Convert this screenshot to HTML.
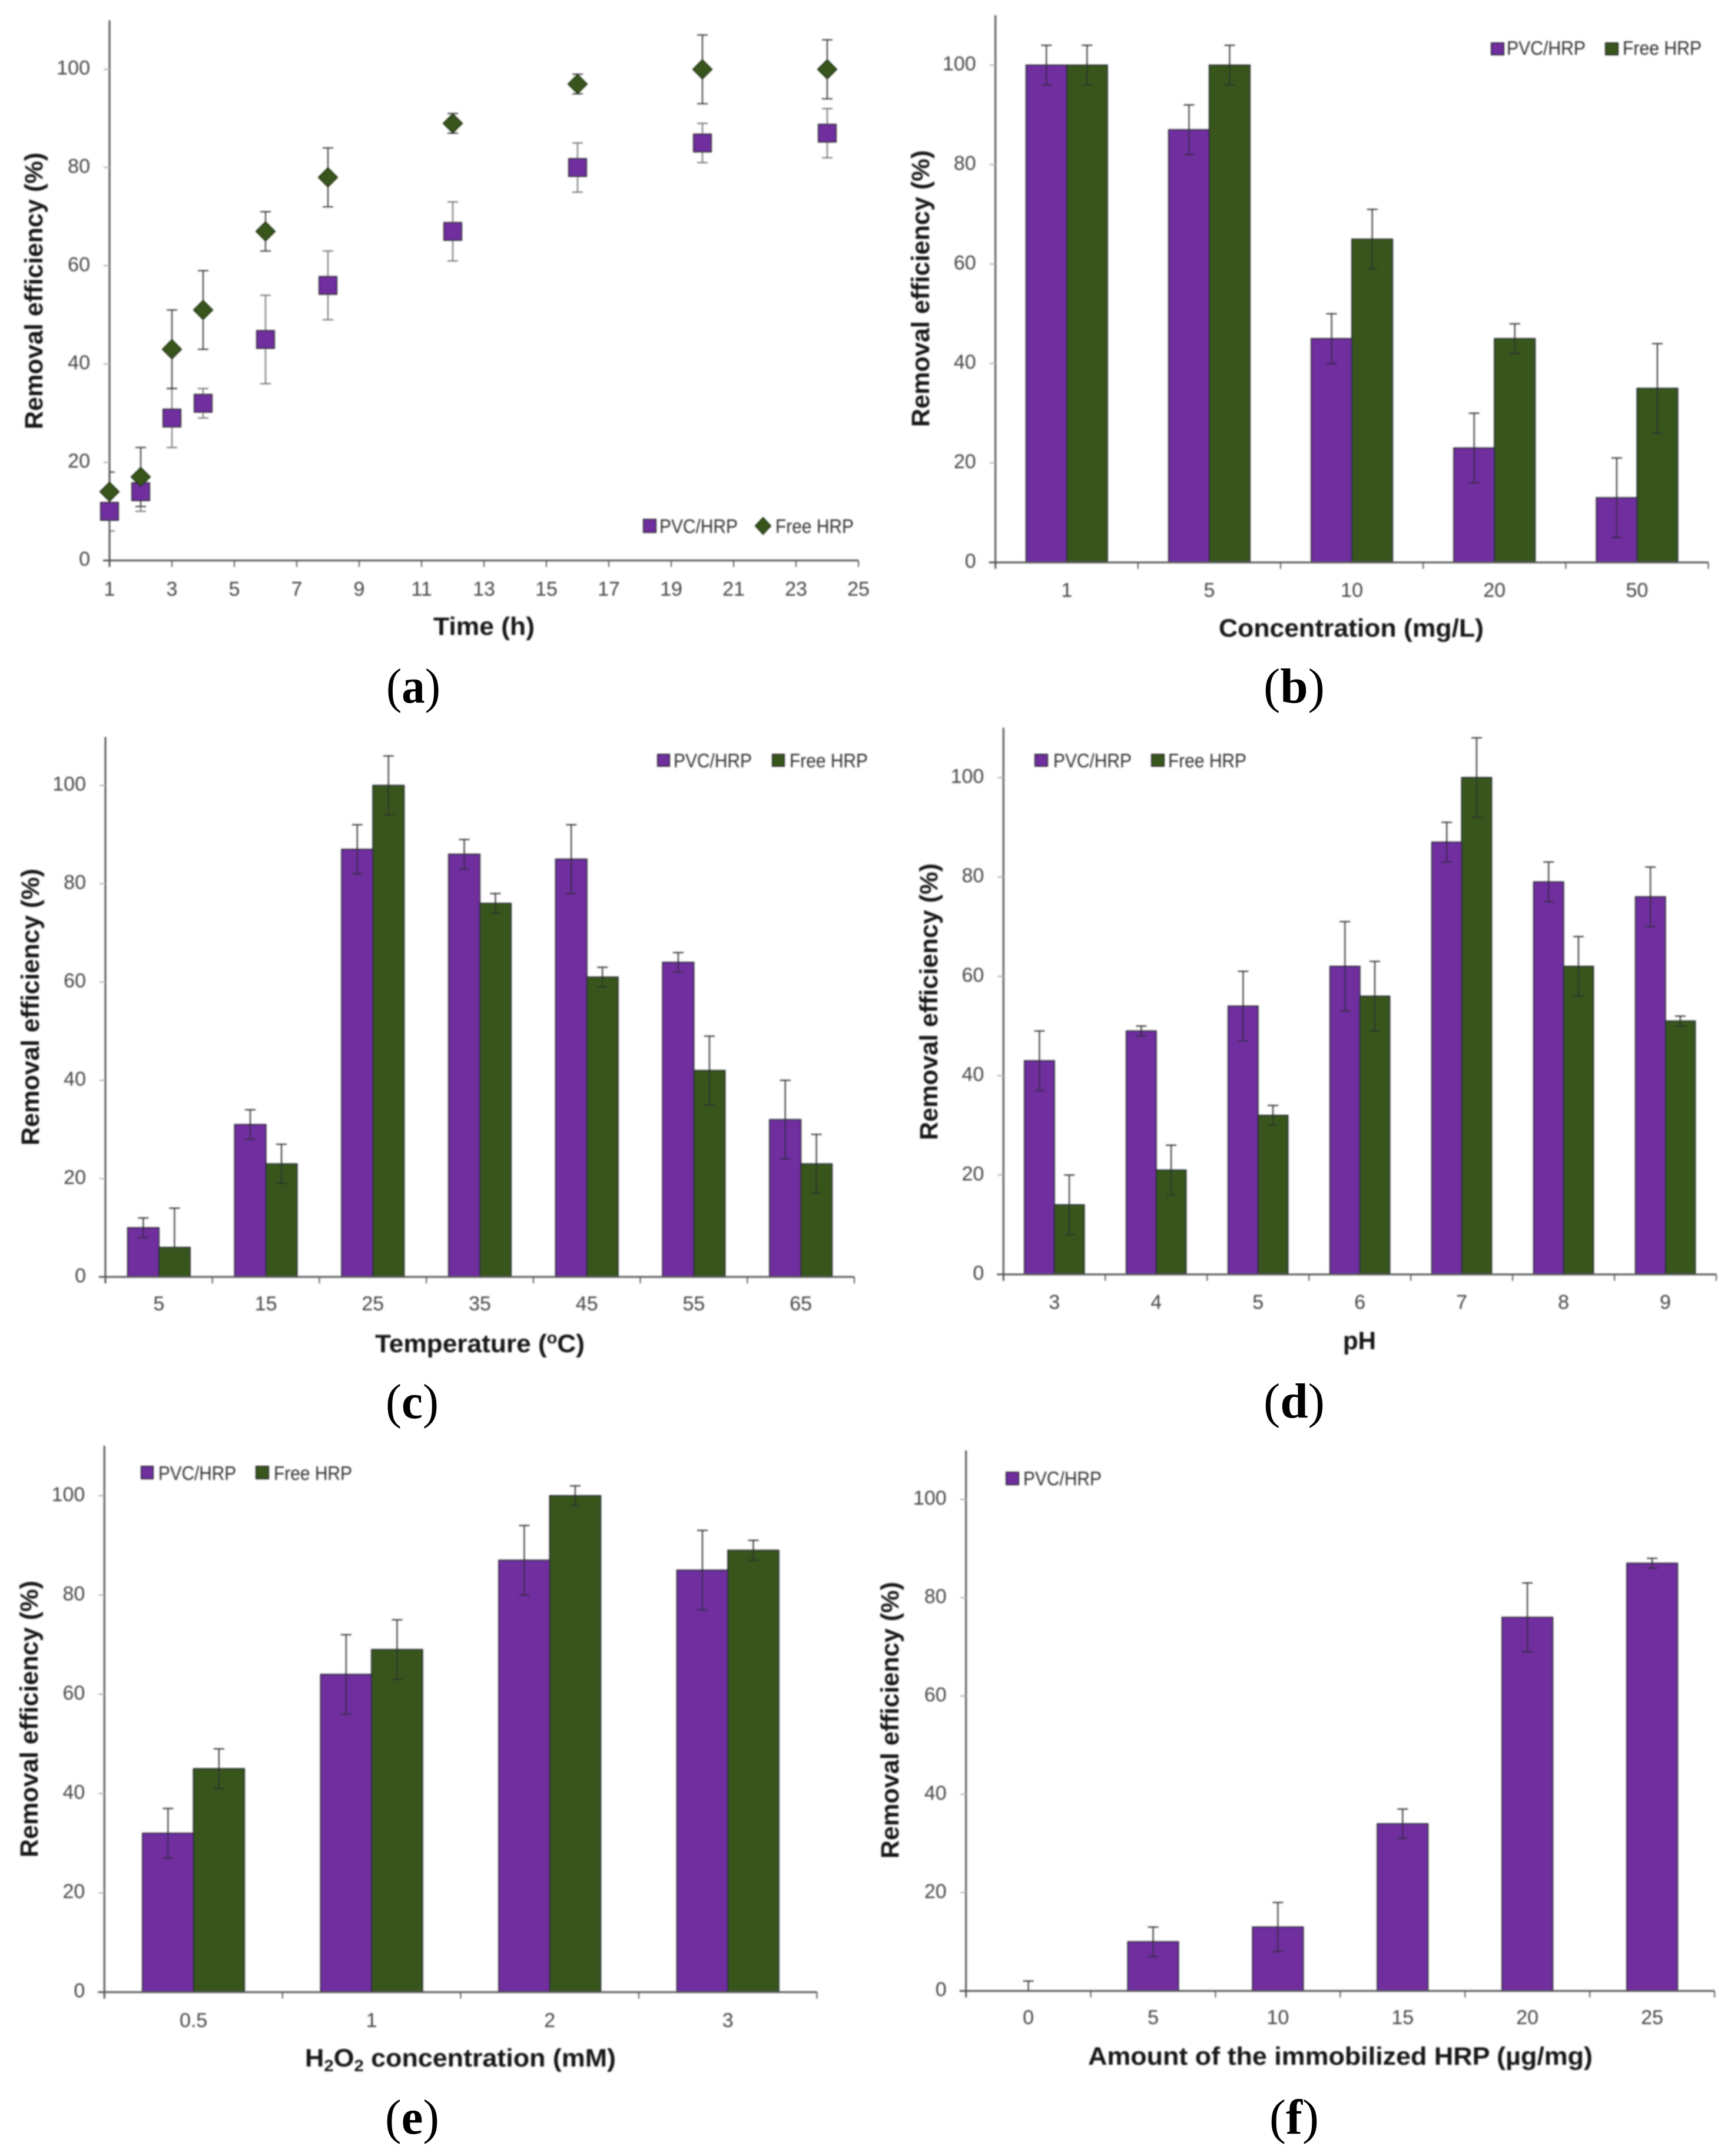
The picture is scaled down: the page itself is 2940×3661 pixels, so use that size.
<!DOCTYPE html>
<html lang="en">
<head>
<meta charset="utf-8">
<title>Removal efficiency panels</title>
<style>
html,body{margin:0;padding:0;background:#fff;}
svg{display:block;}
text{font-family:"Liberation Sans",sans-serif;}
.tick{font-size:34px;fill:#454545;}
.title{font-size:43px;font-weight:700;fill:#151515;}
.legend{font-size:33px;fill:#333;}
.plabel{font-family:"Liberation Serif",serif;font-size:84px;fill:#000;text-anchor:middle;}
.plabel tspan.b{font-weight:700;}
</style>
</head>
<body>
<svg id="figure" xmlns="http://www.w3.org/2000/svg" width="2940" height="3661" viewBox="0 0 2940 3661">
<defs>
<filter id="soft" x="0" y="0" width="2940" height="3661" filterUnits="userSpaceOnUse"><feGaussianBlur stdDeviation="1.2"/></filter>
<clipPath id="clip-a"><rect x="186" y="0" width="1400" height="1000"/></clipPath>
</defs>
<rect width="2940" height="3661" fill="#fff"/>
<g id="blurred" filter="url(#soft)">
  <g id="panel-a">
    <text class="title" transform="translate(72,494) rotate(-90)" text-anchor="middle" textLength="470" lengthAdjust="spacingAndGlyphs">Removal efficiency (%)</text>
    <text class="title" x="736" y="1078" textLength="172" lengthAdjust="spacingAndGlyphs">Time (h)</text>
    <g>
      <rect x="1093" y="882" width="21" height="22" fill="#702f9f" stroke="#222" stroke-width="2"/>
      <text class="legend" x="1120" y="905" textLength="133" lengthAdjust="spacingAndGlyphs">PVC/HRP</text>
      <polygon points="1296,879 1309,893 1296,907 1283,893" fill="#38571f" stroke="#1c2c10" stroke-width="2"/>
      <text class="legend" x="1317" y="905" textLength="133" lengthAdjust="spacingAndGlyphs">Free HRP</text>
    </g>
  </g>
  <g id="panel-b">
    <text class="title" transform="translate(1578,490) rotate(-90)" text-anchor="middle" textLength="470" lengthAdjust="spacingAndGlyphs">Removal efficiency (%)</text>
    <text class="title" x="2070" y="1081" textLength="450" lengthAdjust="spacingAndGlyphs">Concentration (mg/L)</text>
    <g>
      <rect x="2533" y="73" width="21" height="20" fill="#702f9f" stroke="#222" stroke-width="2"/>
      <text class="legend" x="2559" y="93" textLength="134" lengthAdjust="spacingAndGlyphs">PVC/HRP</text>
      <rect x="2727" y="73" width="21" height="20" fill="#38571f" stroke="#222" stroke-width="2"/>
      <text class="legend" x="2756" y="93" textLength="134" lengthAdjust="spacingAndGlyphs">Free HRP</text>
    </g>
  </g>
  <g id="panel-c">
    <text class="title" transform="translate(66,1710) rotate(-90)" text-anchor="middle" textLength="470" lengthAdjust="spacingAndGlyphs">Removal efficiency (%)</text>
    <text class="title" x="637" y="2296" textLength="356" lengthAdjust="spacingAndGlyphs">Temperature (<tspan font-size="28" dy="-15">o</tspan><tspan dy="15">C)</tspan></text>
    <g>
      <rect x="1117" y="1281" width="20" height="20" fill="#702f9f" stroke="#222" stroke-width="2"/>
      <text class="legend" x="1144" y="1303" textLength="133" lengthAdjust="spacingAndGlyphs">PVC/HRP</text>
      <rect x="1312" y="1281" width="20" height="20" fill="#38571f" stroke="#222" stroke-width="2"/>
      <text class="legend" x="1341" y="1303" textLength="133" lengthAdjust="spacingAndGlyphs">Free HRP</text>
    </g>
  </g>
  <g id="panel-d">
    <text class="title" transform="translate(1592,1701) rotate(-90)" text-anchor="middle" textLength="470" lengthAdjust="spacingAndGlyphs">Removal efficiency (%)</text>
    <text class="title" x="2281" y="2291" textLength="56" lengthAdjust="spacingAndGlyphs">pH</text>
    <g>
      <rect x="1758" y="1281" width="21" height="20" fill="#702f9f" stroke="#222" stroke-width="2"/>
      <text class="legend" x="1789" y="1303" textLength="133" lengthAdjust="spacingAndGlyphs">PVC/HRP</text>
      <rect x="1956" y="1281" width="21" height="20" fill="#38571f" stroke="#222" stroke-width="2"/>
      <text class="legend" x="1984" y="1303" textLength="133" lengthAdjust="spacingAndGlyphs">Free HRP</text>
    </g>
  </g>
  <g id="panel-e">
    <text class="title" transform="translate(64,2919) rotate(-90)" text-anchor="middle" textLength="470" lengthAdjust="spacingAndGlyphs">Removal efficiency (%)</text>
    <text class="title" x="518" y="3509" textLength="528" lengthAdjust="spacingAndGlyphs">H<tspan font-size="28" dy="8">2</tspan><tspan dy="-8">O</tspan><tspan font-size="28" dy="8">2</tspan><tspan dy="-8"> concentration (mM)</tspan></text>
    <g>
      <rect x="240" y="2490" width="20" height="21" fill="#702f9f" stroke="#222" stroke-width="2"/>
      <text class="legend" x="269" y="2513" textLength="132" lengthAdjust="spacingAndGlyphs">PVC/HRP</text>
      <rect x="435" y="2490" width="21" height="21" fill="#38571f" stroke="#222" stroke-width="2"/>
      <text class="legend" x="465" y="2513" textLength="133" lengthAdjust="spacingAndGlyphs">Free HRP</text>
    </g>
  </g>
  <g id="panel-f">
    <text class="title" transform="translate(1526,2921) rotate(-90)" text-anchor="middle" textLength="470" lengthAdjust="spacingAndGlyphs">Removal efficiency (%)</text>
    <text class="title" x="1848" y="3506" textLength="857" lengthAdjust="spacingAndGlyphs">Amount of the immobilized HRP (µg/mg)</text>
    <g>
      <rect x="1709" y="2500" width="21" height="21" fill="#702f9f" stroke="#222" stroke-width="2"/>
      <text class="legend" x="1738" y="2522" textLength="133" lengthAdjust="spacingAndGlyphs">PVC/HRP</text>
    </g>
  </g>
</g>
<text class="plabel" x="702" y="1193" textLength="92" lengthAdjust="spacingAndGlyphs">(<tspan class="b">a</tspan>)</text>
<text class="plabel" x="2198" y="1193" textLength="104" lengthAdjust="spacingAndGlyphs">(<tspan class="b">b</tspan>)</text>
<text class="plabel" x="700" y="2408" textLength="90" lengthAdjust="spacingAndGlyphs">(<tspan class="b">c</tspan>)</text>
<text class="plabel" x="2198" y="2407" textLength="104" lengthAdjust="spacingAndGlyphs">(<tspan class="b">d</tspan>)</text>
<text class="plabel" x="700" y="3623" textLength="92" lengthAdjust="spacingAndGlyphs">(<tspan class="b">e</tspan>)</text>
<text class="plabel" x="2198" y="3623" textLength="84" lengthAdjust="spacingAndGlyphs">(<tspan class="b">f</tspan>)</text>
</svg>
<script>
// ---- shared axis ticks ----
const yTicks = [0, 20, 40, 60, 80, 100];

// ---- panel a: time course ----
const timeTicks = [1, 3, 5, 7, 9, 11, 13, 15, 17, 19, 21, 23, 25];
const timeHours = [1, 2, 3, 4, 6, 8, 12, 16, 20, 24];
const timePvc = [10, 14, 29, 32, 45, 56, 67, 80, 85, 87];
const timePvcErr = [4, 4, 6, 3, 9, 7, 6, 5, 4, 5];
const timeFree = [14, 17, 43, 51, 67, 78, 89, 97, 100, 100];
const timeFreeErr = [4, 6, 8, 8, 4, 6, 2, 2, 7, 6];

// ---- panel b: concentration ----
const concCategories = ['1', '5', '10', '20', '50'];
const concPvc = [100, 87, 45, 23, 13];
const concPvcErr = [4, 5, 5, 7, 8];
const concFree = [100, 100, 65, 45, 35];
const concFreeErr = [4, 4, 6, 3, 9];

// ---- panel c: temperature ----
const tempCategories = ['5', '15', '25', '35', '45', '55', '65'];
const tempPvc = [10, 31, 87, 86, 85, 64, 32];
const tempPvcErr = [2, 3, 5, 3, 7, 2, 8];
const tempFree = [6, 23, 100, 76, 61, 42, 23];
const tempFreeErr = [8, 4, 6, 2, 2, 7, 6];

// ---- panel d: pH ----
const phCategories = ['3', '4', '5', '6', '7', '8', '9'];
const phPvc = [43, 49, 54, 62, 87, 79, 76];
const phPvcErr = [6, 1, 7, 9, 4, 4, 6];
const phFree = [14, 21, 32, 56, 100, 62, 51];
const phFreeErr = [6, 5, 2, 7, 8, 6, 1];

// ---- panel e: H2O2 ----
const peroxCategories = ['0.5', '1', '2', '3'];
const peroxPvc = [32, 64, 87, 85];
const peroxPvcErr = [5, 8, 7, 8];
const peroxFree = [45, 69, 100, 89];
const peroxFreeErr = [4, 6, 2, 2];

// ---- panel f: immobilized amount ----
const amountCategories = ['0', '5', '10', '15', '20', '25'];
const amountPvc = [0, 10, 13, 34, 76, 87];
const amountPvcErr = [2, 3, 5, 3, 7, 1];

const PURPLE = '#702f9f';
const GREEN = '#38571f';
const NS = 'http://www.w3.org/2000/svg';

function make(parent, tag, attrs, name) {
  const el = document.createElementNS(NS, tag);
  for (const k in attrs) el.setAttribute(k, attrs[k]);
  
  
  parent.appendChild(el);
  return el;
}

function line(parent, x1, y1, x2, y2, color, width, name) {
  return make(parent, 'line', {x1: x1, y1: y1, x2: x2, y2: y2, stroke: color, 'stroke-width': width}, name);
}

function tickText(parent, x, y, anchor, str, name) {
  const t = make(parent, 'text', {x: x, y: y, 'text-anchor': anchor, 'class': 'tick'}, name);
  t.textContent = str;
  return t;
}

function makeYScale(g) {
  return function (v) { return g.y0 - v * (g.y0 - g.y100) / 100; };
}

function drawYAxis(parent, g, yScale) {
  const AXIS = '#555';
  line(parent, g.x0, g.top, g.x0, g.y0 + 11, AXIS, 3, 'y-axis-line');
  yTicks.forEach(function (v) {
    line(parent, g.x0 - 10, yScale(v), g.x0, yScale(v), v === 0 ? AXIS : '#aaa', 2, 'y-tick-' + v);
    tickText(parent, g.x0 - 33, yScale(v) + 9, 'end', String(v), 'y-tick-label-' + v);
  });
}

function drawErr(parent, x, yScale, v, e, color, name) {
  const g = make(parent, 'g', {}, name);
  line(g, x, yScale(v + e), x, yScale(v - e), color, 2, 'error-stem');
  line(g, x - 9, yScale(v + e), x + 9, yScale(v + e), color, 2, 'error-cap-top');
  line(g, x - 9, yScale(v - e), x + 9, yScale(v - e), color, 2, 'error-cap-bottom');
}

function drawBarPanel(id, g, categories, series) {
  const root = document.getElementById(id);
  const yScale = makeYScale(g);
  const step = (g.x1 - g.x0) / categories.length;
  const xCenter = function (i) { return g.x0 + step * (i + 0.5); };
  const marks = make(root, 'g', {}, 'bars');
  series.forEach(function (s, si) {
    s.values.forEach(function (v, i) {
      const left = xCenter(i) - series.length * g.barW / 2 + si * g.barW;
      if (v > 0) {
        make(marks, 'rect', {x: left, y: yScale(v), width: g.barW, height: yScale(0) - yScale(v), fill: s.color, stroke: '#24282a', 'stroke-width': 2}, 'bar-' + s.key + '-' + categories[i]);
      }
    });
  });
  series.forEach(function (s, si) {
    s.values.forEach(function (v, i) {
      const left = xCenter(i) - series.length * g.barW / 2 + si * g.barW;
      const hi = s.errors[i];
      const lo = v - hi < 0 ? v : hi;
      if (lo === hi) {
        drawErr(marks, left + g.barW / 2, yScale, v, hi, '#2a2a2a', 'error-bar-' + s.key + '-' + categories[i]);
      } else {
        const eg = make(marks, 'g', {}, 'error-bar-' + s.key + '-' + categories[i]);
        line(eg, left + g.barW / 2, yScale(v + hi), left + g.barW / 2, yScale(v), '#2a2a2a', 2, 'error-stem');
        line(eg, left + g.barW / 2 - 9, yScale(v + hi), left + g.barW / 2 + 9, yScale(v + hi), '#2a2a2a', 2, 'error-cap-top');
      }
    });
  });
  drawYAxis(root, g, yScale);
  line(root, g.x0 - 11, g.y0, g.x1, g.y0, '#555', 3, 'x-axis-line');
  for (let i = 0; i <= categories.length; i++) {
    line(root, g.x0 + step * i, g.y0, g.x0 + step * i, g.y0 + 11, '#555', 2, 'x-tick-mark');
  }
  categories.forEach(function (c, i) {
    tickText(root, xCenter(i), g.labelY + 12, 'middle', c, 'x-tick-label-' + c);
  });
}

function drawScatterPanel(id, g) {
  const root = document.getElementById(id);
  const yScale = makeYScale(g);
  const xScale = function (h) { return g.x0 + (h - timeTicks[0]) * (g.x1 - g.x0) / (timeTicks[timeTicks.length - 1] - timeTicks[0]); };
  drawYAxis(root, g, yScale);
  line(root, g.x0 - 11, g.y0, g.x1, g.y0, '#555', 3, 'x-axis-line');
  timeTicks.forEach(function (t) {
    line(root, xScale(t), g.y0, xScale(t), g.y0 + 11, '#555', 2, 'x-tick-mark');
    tickText(root, xScale(t), g.labelY + 12, 'middle', String(t), 'x-tick-label-' + t);
  });
  const errors = make(root, 'g', {'clip-path': 'url(#clip-a)'}, 'error-bars');
  timeHours.forEach(function (h, i) {
    drawErr(errors, xScale(h), yScale, timePvc[i], timePvcErr[i], '#6e6e6e', 'error-bar-pvc-' + h);
  });
  timeHours.forEach(function (h, i) {
    drawErr(errors, xScale(h), yScale, timeFree[i], timeFreeErr[i], '#333', 'error-bar-free-' + h);
  });
  timeHours.forEach(function (h, i) {
    const x = xScale(h), y = yScale(timePvc[i]);
    make(root, 'rect', {x: x - 15, y: y - 15, width: 30, height: 30, fill: PURPLE, stroke: '#2a2a2a', 'stroke-width': 2}, 'point-pvc-' + h);
  });
  timeHours.forEach(function (h, i) {
    const x = xScale(h), y = yScale(timeFree[i]);
    const pts = x + ',' + (y - 16) + ' ' + (x + 16) + ',' + y + ' ' + x + ',' + (y + 16) + ' ' + (x - 16) + ',' + y;
    make(root, 'polygon', {points: pts, fill: GREEN, stroke: '#1c2c10', 'stroke-width': 2}, 'point-free-' + h);
  });
}

drawScatterPanel('panel-a', {x0: 186, x1: 1458, y0: 951.7, y100: 117.7, top: 34.5, labelY: 999.4});

drawBarPanel('panel-b', {x0: 1690.7, x1: 2901.5, y0: 955, y100: 110.6, top: 25.9, barW: 69, labelY: 1001.7}, concCategories, [
  {key: 'pvc', color: PURPLE, values: concPvc, errors: concPvcErr},
  {key: 'free', color: GREEN, values: concFree, errors: concFreeErr}
]);
drawBarPanel('panel-c', {x0: 179, x1: 1451, y0: 2168.3, y100: 1333.7, top: 1251.4, barW: 53, labelY: 2213}, tempCategories, [
  {key: 'pvc', color: PURPLE, values: tempPvc, errors: tempPvcErr},
  {key: 'free', color: GREEN, values: tempFree, errors: tempFreeErr}
]);
drawBarPanel('panel-d', {x0: 1704.3, x1: 2915, y0: 2164, y100: 1320.4, top: 1235.7, barW: 50.7, labelY: 2210.7}, phCategories, [
  {key: 'pvc', color: PURPLE, values: phPvc, errors: phPvcErr},
  {key: 'free', color: GREEN, values: phFree, errors: phFreeErr}
]);
drawBarPanel('panel-e', {x0: 177.3, x1: 1387.5, y0: 3382.7, y100: 2539.8, top: 2455, barW: 86.5, labelY: 3430}, peroxCategories, [
  {key: 'pvc', color: PURPLE, values: peroxPvc, errors: peroxPvcErr},
  {key: 'free', color: GREEN, values: peroxFree, errors: peroxFreeErr}
]);
drawBarPanel('panel-f', {x0: 1640.7, x1: 2912, y0: 3380.7, y100: 2546, top: 2463, barW: 86, labelY: 3425}, amountCategories, [
  {key: 'pvc', color: PURPLE, values: amountPvc, errors: amountPvcErr}
]);
</script>
</body>
</html>
